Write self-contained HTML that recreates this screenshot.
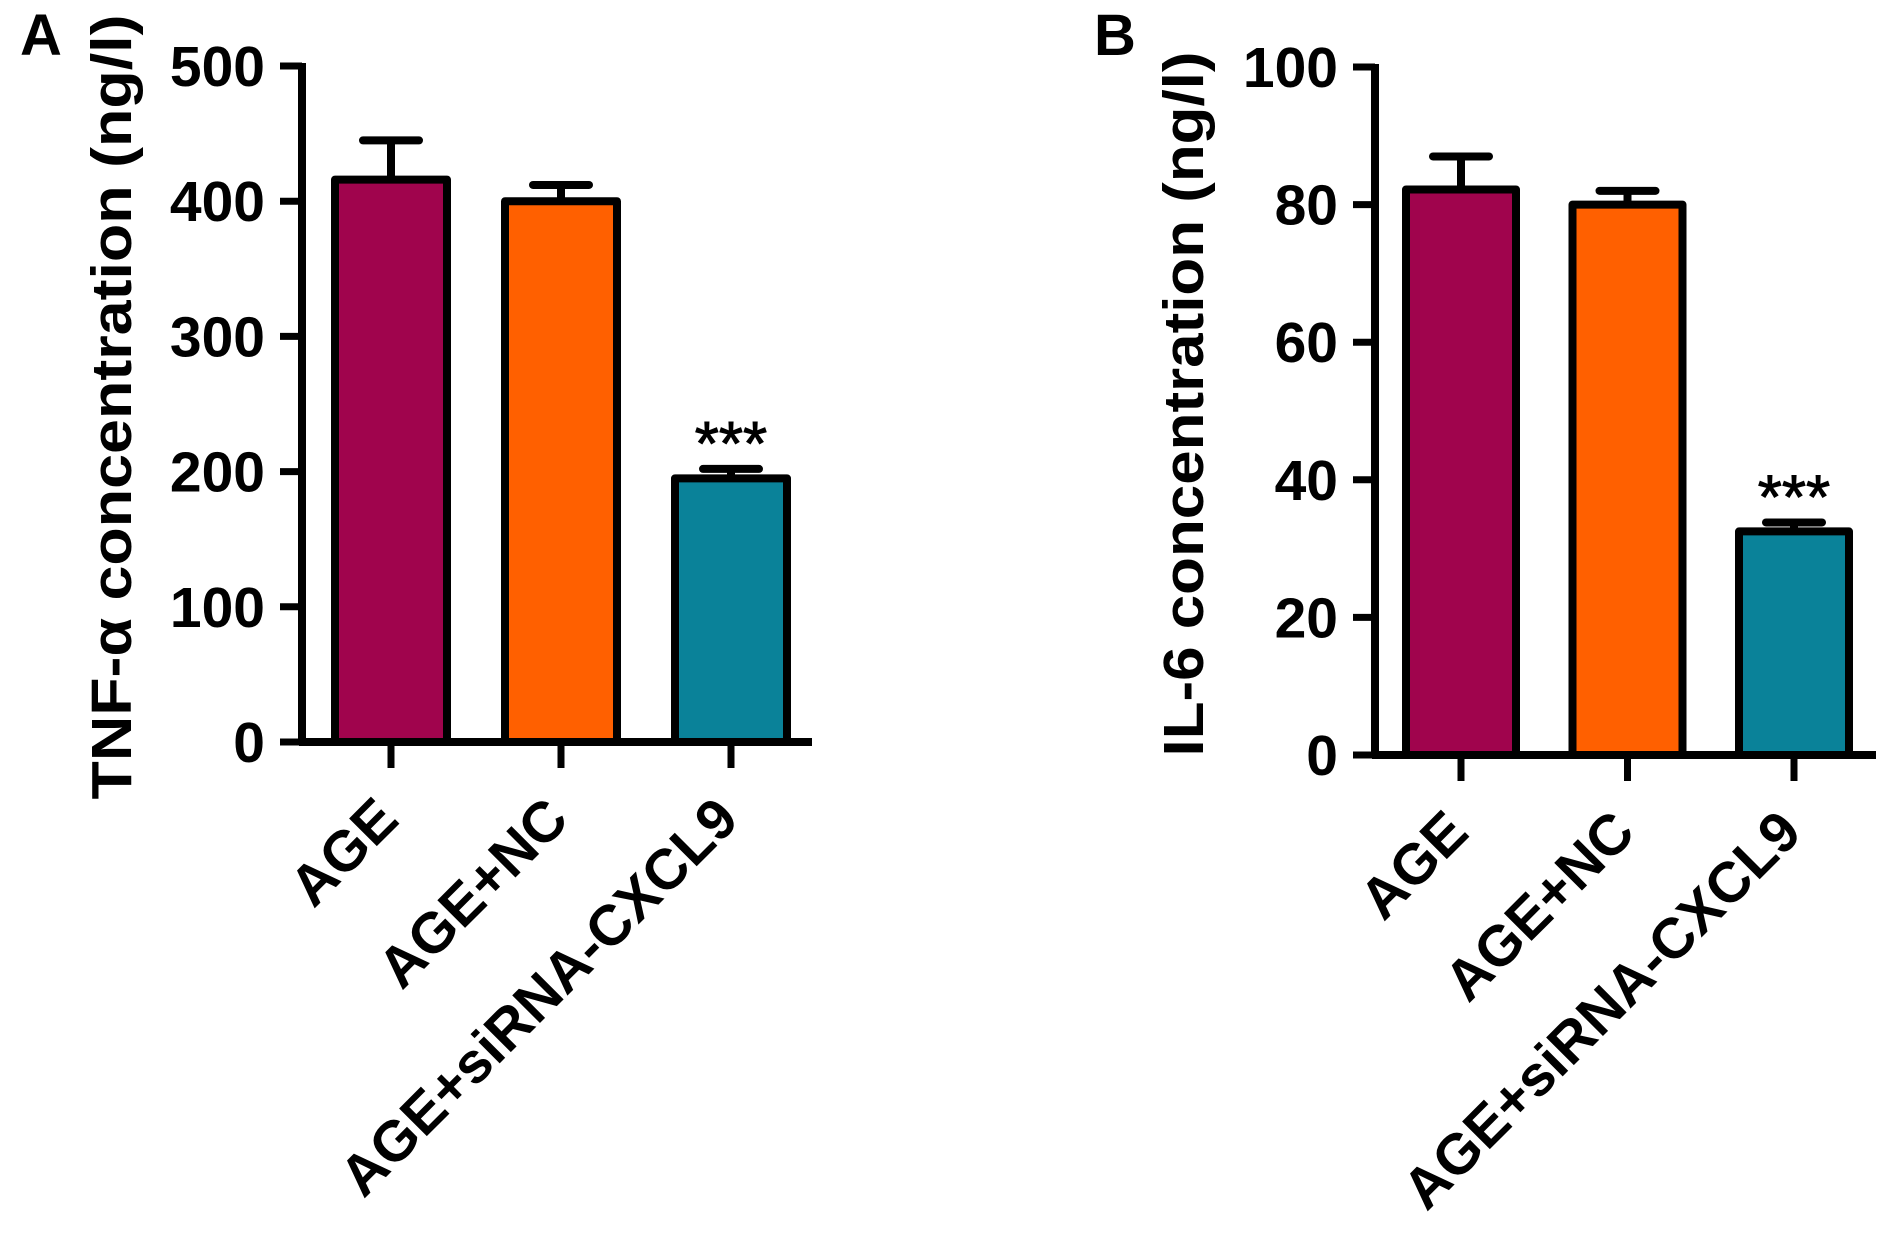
<!DOCTYPE html>
<html><head><meta charset="utf-8">
<style>
html,body{margin:0;padding:0;background:#fff;}
svg{display:block;font-family:"Liberation Sans",Arial,sans-serif;}
</style></head>
<body>
<svg id="chart" width="1890" height="1239" viewBox="0 0 1890 1239" xmlns="http://www.w3.org/2000/svg">
<text x="20" y="55" font-size="58" font-weight="bold">A</text>
<text x="1094" y="55" font-size="58" font-weight="bold">B</text>
</svg>
<script>
const categories = ["AGE", "AGE+NC", "AGE+siRNA-CXCL9"];
const colors = ["#a0044d", "#ff6000", "#0a8299"];
const tnfValues = [416, 400, 195];
const tnfErrors = [29, 12, 7];
const tnfTicks = [0, 100, 200, 300, 400, 500];
const il6Values = [82.2, 80.0, 32.5];
const il6Errors = [4.8, 2.0, 1.3];
const il6Ticks = [0, 20, 40, 60, 80, 100];
const sigLabels = ["", "", "***"];

const NS = "http://www.w3.org/2000/svg";
const svg = document.getElementById("chart");
function mk(tag, attrs, parent) {
  const e = document.createElementNS(NS, tag);
  for (const k in attrs) e.setAttribute(k, attrs[k]);
  (parent || svg).appendChild(e);
  return e;
}

function drawPanel(p) {
  const g = mk("g", {});
  
  
  const maxV = p.ticks[p.ticks.length - 1];
  const y = v => p.y0 - (v / maxV) * (p.y0 - p.yTop);
  const cx = i => p.x0 + p.firstOffset + i * p.step;

  p.values.forEach((v, i) => {
    const errTop = y(v + p.errors[i]);
    const el = mk("line", {x1: cx(i), x2: cx(i), y1: y(v), y2: errTop, stroke: "#000", "stroke-width": 8}, g);
    
    
    const cap = mk("line", {x1: cx(i) - 28, x2: cx(i) + 28, y1: errTop, y2: errTop, stroke: "#000", "stroke-width": 8, "stroke-linecap": "round"}, g);
    
    
    const r = mk("rect", {x: cx(i) - p.barW / 2, y: y(v), width: p.barW, height: p.y0 - y(v), fill: colors[i], stroke: "#000", "stroke-width": 8, "stroke-linejoin": "round"}, g);
    
    
    if (sigLabels[i]) {
      const s = mk("text", {x: cx(i), y: errTop - 4, "text-anchor": "middle", "font-size": 62, stroke: "#000", "stroke-width": 1}, g);
      s.textContent = sigLabels[i];
      
      
    }
    const t = mk("line", {x1: cx(i), x2: cx(i), y1: p.y0, y2: p.y0 + 26, stroke: "#000", "stroke-width": 7}, g);
    
    
    const lx = cx(i) + 10, ly = p.y0 + 80;
    const lab = mk("text", {x: lx, y: ly, "text-anchor": "end", "font-size": 57, "font-weight": "bold", transform: `rotate(-45 ${lx} ${ly})`}, g);
    lab.textContent = categories[i];
    
    
  });

  const ya = mk("line", {x1: p.x0, x2: p.x0, y1: p.yTop - 3, y2: p.y0 + 3, stroke: "#000", "stroke-width": 8}, g);
  
  
  const xa = mk("line", {x1: p.x0 - 3, x2: p.xEnd, y1: p.y0, y2: p.y0, stroke: "#000", "stroke-width": 8}, g);
  
  
  p.ticks.forEach(tv => {
    const t = mk("line", {x1: p.x0 - 22, x2: p.x0, y1: y(tv), y2: y(tv), stroke: "#000", "stroke-width": 7}, g);
    
    
    const l = mk("text", {x: p.x0 - 37, y: y(tv) + 20, "text-anchor": "end", "font-size": 57, "font-weight": "bold"}, g);
    l.textContent = tv;
    
    
  });
  const tx = p.titleX, ty = p.titleMid;
  const ttl = mk("text", {x: tx, y: ty, "text-anchor": "middle", "font-size": 57, "font-weight": "bold", textLength: p.titleLen, lengthAdjust: "spacingAndGlyphs", transform: `rotate(-90 ${tx} ${ty})`}, g);
  ttl.textContent = p.title;
  
  
}

drawPanel({name: "panel-a-tnf", values: tnfValues, errors: tnfErrors, ticks: tnfTicks,
  x0: 302, xEnd: 812, y0: 742, yTop: 66, firstOffset: 89, step: 170, barW: 112,
  title: "TNF-\u03b1 concentration (ng/l)", titleX: 131, titleMid: 407, titleLen: 785});
drawPanel({name: "panel-b-il6", values: il6Values, errors: il6Errors, ticks: il6Ticks,
  x0: 1375, xEnd: 1876, y0: 755, yTop: 67, firstOffset: 86, step: 166.5, barW: 110,
  title: "IL-6 concentration (ng/l)", titleX: 1203, titleMid: 404, titleLen: 705});
</script>
</body></html>
